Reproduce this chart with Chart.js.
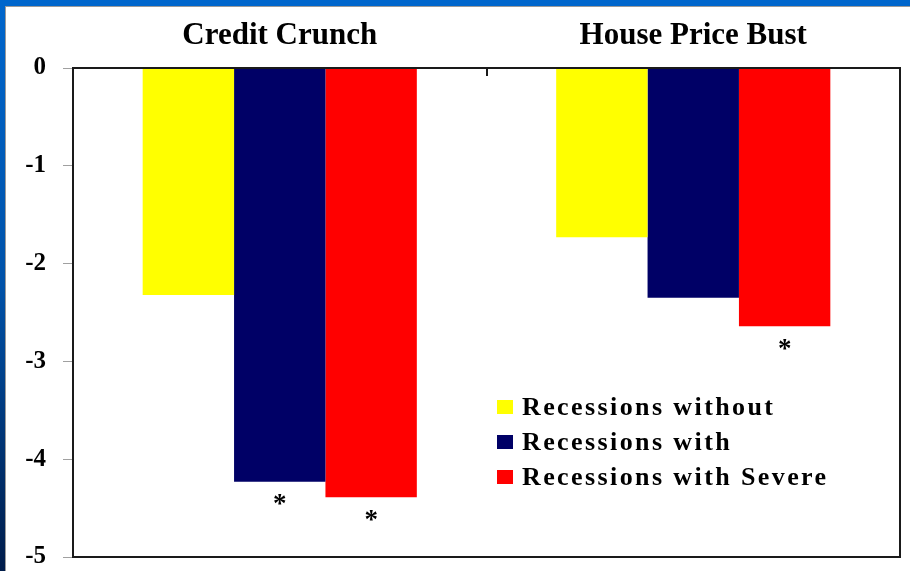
<!DOCTYPE html>
<html>
<head>
<meta charset="utf-8">
<script src="https://cdn.jsdelivr.net/npm/chart.js@4.4.1/dist/chart.umd.min.js"></script>
<style>
  html, body { margin: 0; padding: 0; }
  body { width: 910px; height: 571px; position: relative; overflow: hidden;
         background: linear-gradient(to bottom, #0066cc 0%, #0052a8 50%, #001c4a 100%); }
  #topbar { position: absolute; left: 0; top: 0; width: 910px; height: 6px; background: #0066cc; }
  #panel { position: absolute; left: 5px; top: 6px; width: 905px; height: 565px; background: #ffffff;
           border-left: 1px solid #9a9a9a; border-top: 1px solid #9a9a9a; box-sizing: border-box; }
  #wrap { position: absolute; left: 0; top: 0; width: 910px; height: 571px; }
</style>
</head>
<body>
<div id="topbar"></div>
<div id="panel"></div>
<div id="wrap"><canvas id="c" width="910" height="571"></canvas></div>
<script>
const categories = ["Credit Crunch", "House Price Bust"];
const seriesNames = ["Recessions without", "Recessions with", "Recessions with Severe"];
const withoutValues = [-2.32, -1.73];
const withValues = [-4.23, -2.35];
const severeValues = [-4.39, -2.64];
const significant = [[false, false], [true, false], [true, true]];
const yTicks = [0, -1, -2, -3, -4, -5];
const colors = ["#ffff00", "#000066", "#ff0000"];

const serif = "'Liberation Serif', 'Times New Roman', serif";

const frame = {
  id: 'frame',
  afterDraw(chart) {
    const ctx = chart.ctx, a = chart.chartArea;
    const xs = chart.scales.x;
    ctx.save();
    ctx.strokeStyle = '#1a1a1a';
    ctx.lineWidth = 2;
    ctx.strokeRect(a.left, a.top, a.right - a.left, a.bottom - a.top);
    // inner tick between categories
    for (let i = 0; i < categories.length - 1; i++) {
      const xm = Math.round((xs.getPixelForValue(i) + xs.getPixelForValue(i + 1)) / 2);
      ctx.lineWidth = 2;
      ctx.beginPath(); ctx.moveTo(xm, a.top); ctx.lineTo(xm, a.top + 8); ctx.stroke();
    }
    // asterisks
    ctx.fillStyle = '#000';
    ctx.font = "bold 27px " + serif;
    ctx.textAlign = 'center';
    ctx.textBaseline = 'top';
    chart.data.datasets.forEach((ds, di) => {
      const meta = chart.getDatasetMeta(di);
      meta.data.forEach((bar, i) => {
        if (significant[di][i]) ctx.fillText('*', bar.x, bar.y + 10);
      });
    });
    // legend
    ctx.font = "bold 26px " + serif;
    if ('letterSpacing' in ctx) ctx.letterSpacing = '2.4px';
    ctx.textAlign = 'left';
    ctx.textBaseline = 'middle';
    const lx = a.left + 424, ly0 = a.top + 339, step = 35;
    chart.data.datasets.forEach((ds, di) => {
      const y = ly0 + di * step;
      ctx.fillStyle = ds.backgroundColor;
      ctx.fillRect(lx, y - 7, 16, 14);
      ctx.fillStyle = '#000';
      ctx.fillText(ds.label, lx + 25, y + 1);
    });
    ctx.restore();
  }
};

new Chart(document.getElementById('c'), {
  type: 'bar',
  data: {
    labels: categories,
    datasets: [
      { label: seriesNames[0], data: withoutValues, backgroundColor: colors[0] },
      { label: seriesNames[1], data: withValues, backgroundColor: colors[1] },
      { label: seriesNames[2], data: severeValues, backgroundColor: colors[2] }
    ]
  },
  options: {
    responsive: false,
    animation: false,
    layout: { padding: { left: 0, right: 10, top: 0, bottom: 14 } },
    plugins: { legend: { display: false }, tooltip: { enabled: false } },
    datasets: { bar: { categoryPercentage: 0.663, barPercentage: 1.0, borderWidth: 0 } },
    scales: {
      x: {
        position: 'top',
        grid: { display: false, drawTicks: false },
        border: { display: false },
        ticks: { color: '#000', font: { family: serif, size: 31, weight: 'bold' }, padding: 13 },
        afterFit(s) { s.height = 68; }
      },
      y: {
        min: -5, max: 0,
        afterBuildTicks(s) { s.ticks = yTicks.map(v => ({ value: v })); },
        grid: { drawOnChartArea: false, tickLength: 10, color: '#a0a0a0', lineWidth: 1 },
        border: { display: false },
        ticks: { color: '#000', font: { family: serif, size: 25, weight: 'bold', lineHeight: 1 }, padding: 17 },
        afterFit(s) { s.width = 73; s.paddingTop = 0; s.paddingBottom = 0; }
      }
    }
  },
  plugins: [frame]
});
</script>
</body>
</html>
